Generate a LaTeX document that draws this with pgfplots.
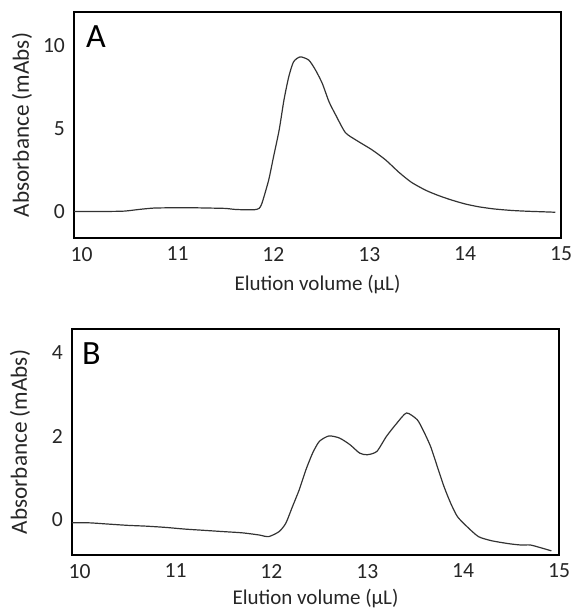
\documentclass[border=0pt]{standalone}
\usepackage{fontspec}
\setmainfont{Carlito}
\usepackage{pgfplots}
\pgfplotsset{compat=1.18}

\pgfplotsset{
  chrom/.style={
    scale only axis,
    width=243.5pt, height=113pt,
    xmin=9.92, xmax=15.0,
    xtick={10,11,12,13,14,15},
    axis line style={black, line width=0.7pt},
    major tick length=0pt,
    tick label style={font=\fontsize{10.8}{12}\selectfont, black!85},
    /pgf/number format/assume math mode=true,
    xticklabel style={yshift=-1pt},
    yticklabel style={xshift=-1pt},
    xlabel={Elution volume (µL)},
    ylabel={Absorbance (mAbs)},
    xlabel style={font=\fontsize{10.5}{12}\selectfont, black!85,
      at={(axis description cs:0.5,0)}, anchor=center, yshift=-23.5pt},
    ylabel style={font=\fontsize{11.6}{12}\selectfont, black!85,
      at={(axis description cs:-0.107,0.5)}, anchor=center},
    clip=false,
  }
}

\begin{document}
\begin{tikzpicture}
\path[use as bounding box] (0,0) rectangle (286pt,-305.5pt);

% panel A
\begin{axis}[chrom, at={(37pt,-119pt)}, anchor=south west,
    ymin=-1.6, ymax=12, ytick={0,5,10}]
  \addplot[black!80, line width=0.6pt, smooth, tension=0.4] coordinates {
    (9.92,0) (10.1,0) (10.3,0) (10.45,0.02) (10.6,0.12) (10.75,0.2)
    (10.95,0.22) (11.15,0.22) (11.35,0.2) (11.5,0.18) (11.6,0.12)
    (11.7,0.1) (11.8,0.1) (11.85,0.18) (11.88,0.48) (11.95,1.87)
    (12.0,3.25) (12.06,4.9) (12.11,6.7) (12.16,8.1) (12.21,9.0)
    (12.28,9.3) (12.37,9.1) (12.44,8.5) (12.51,7.7) (12.58,6.6)
    (12.65,5.8) (12.75,4.75) (12.86,4.3) (13.03,3.7) (13.17,3.1)
    (13.31,2.35) (13.44,1.75) (13.59,1.27) (13.72,0.96) (13.85,0.7)
    (14.0,0.45) (14.14,0.28) (14.3,0.15) (14.48,0.06) (14.65,0.01)
    (14.8,-0.02) (14.94,-0.05)
  };
  \node[anchor=north west, font=\fontsize{17}{17}\selectfont, inner sep=0pt]
    at (rel axis cs:0.024,0.94) {A};
\end{axis}

% panel B
\begin{axis}[chrom, at={(36pt,-277.5pt)}, anchor=south west,
    ymin=-0.84, ymax=4.57, ytick={0,2,4},
    xlabel style={yshift=1.5pt}]
  \addplot[black!80, line width=0.6pt, smooth, tension=0.4] coordinates {
    (9.92,-0.07) (10.1,-0.07) (10.3,-0.1) (10.5,-0.13) (10.7,-0.15)
    (10.9,-0.18) (11.1,-0.22) (11.3,-0.25) (11.5,-0.28) (11.7,-0.31)
    (11.87,-0.36) (11.97,-0.4) (12.08,-0.28) (12.15,-0.08) (12.22,0.32)
    (12.29,0.72) (12.36,1.2) (12.43,1.6) (12.5,1.88) (12.6,2.01)
    (12.71,1.96) (12.82,1.8) (12.92,1.6) (13.0,1.56) (13.1,1.64)
    (13.2,2.0) (13.31,2.32) (13.41,2.56) (13.52,2.4) (13.58,2.16)
    (13.66,1.76) (13.73,1.28) (13.8,0.8) (13.87,0.4) (13.94,0.08)
    (14.04,-0.16) (14.16,-0.4) (14.3,-0.5) (14.48,-0.57) (14.6,-0.6)
    (14.7,-0.6) (14.8,-0.66) (14.92,-0.74)
  };
  \node[anchor=north west, font=\fontsize{17}{17}\selectfont, inner sep=0pt]
    at (rel axis cs:0.02,0.94) {B};
\end{axis}
\end{tikzpicture}
\end{document}
